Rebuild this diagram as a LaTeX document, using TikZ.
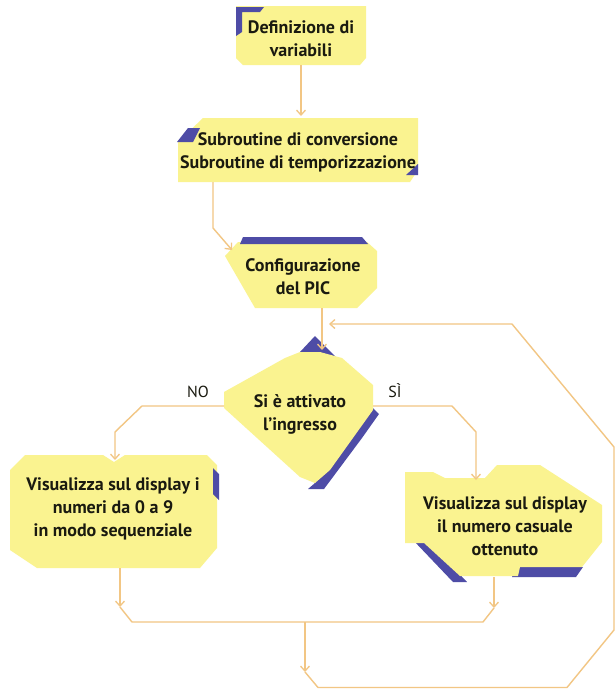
\documentclass[tikz,border=0pt]{standalone}
\usepackage{fontspec}
\setmainfont{PT Sans}
\usetikzlibrary{arrows.meta}
\definecolor{boxfill}{HTML}{FAF390}
\definecolor{shadowblue}{HTML}{4E4CA6}
\definecolor{flowline}{HTML}{F2C684}
\definecolor{inktext}{HTML}{1A1A10}
\tikzset{
  boxshape/.style={fill=boxfill,draw=none},
  bluetab/.style={fill=shadowblue,draw=none},
  boxtext/.style={inner sep=0pt,align=center,text=inktext,font=\bfseries\fontsize{18}{23}\selectfont},
  branchtext/.style={inner sep=0pt,text=inktext,font=\fontsize{16}{18}\selectfont},
  flow/.style={draw=flowline,line width=1.4pt,line join=round},
  flowarrow/.style={flow,-{Straight Barb[length=5pt,width=9pt,line width=1.3pt]}}
}
\begin{document}
\begin{tikzpicture}[x=1pt,y=-1pt]
\useasboundingbox (0,0) rectangle (616,689);
\fill[white] (0,0) rectangle (616,689);

% --- box: variable definitions
\fill[boxshape] (236,6) -- (366,6) -- (366,58) -- (360,65) -- (243,65) -- (236,58) -- cycle;
\fill[bluetab] (236,7) -- (264,7) -- (260,12) -- (242,12) -- (242,32) -- (236,36) -- cycle;
\node[boxtext] (n1) at (301,39) {Definizione di\\variabili};
\coordinate (n1s) at (301,65);
\coordinate (n2n) at (301,116);

% --- box: subroutines
\fill[boxshape] (203,118) -- (418,118) -- (418,170) -- (410,182) -- (178,182) -- (178,142) -- cycle;
\fill[bluetab] (177,142) -- (188,128) -- (200,128) -- (193,142) -- cycle;
\fill[bluetab] (406,175) -- (418,164) -- (418,175) -- cycle;
\node[boxtext] (n2) at (298,152) {Subroutine di conversione\\Subroutine di temporizzazione};
\coordinate (n2s) at (213,182);
\coordinate (n2k) at (213,228);

% --- box: PIC configuration
\fill[boxshape] (238,242) -- (367,242) -- (377,251) -- (377,288) -- (357,308) -- (255,308) -- (225,256) -- cycle;
\fill[bluetab] (243,237) -- (362,237) -- (368,244) -- (240,244) -- cycle;
\node[boxtext] (n3) at (303,277) {Configurazione\\del PIC};
\coordinate (n3w) at (232,250);
\coordinate (n3s) at (322,308);

% --- decision
\fill[bluetab] (300,352) -- (315,336) -- (337,358) -- cycle;
\fill[bluetab] (373,408) -- (379,414) -- (362,438) -- (324,489) -- (308,489) -- (315,483) -- cycle;
\fill[boxshape] (224,392) -- (285,358) -- (300,352) -- (320,352) -- (342,358) -- (373,385)
  -- (373,410) -- (330,470) -- (315,483) -- (300,477) -- (224,408) -- cycle;
\node[boxtext] (d1) at (300,414) {Si è attivato\\l’ingresso};
\coordinate (d1n) at (322,350);
\coordinate (d1w) at (224,406);
\coordinate (d1e) at (373,406);
\node[branchtext] (lno) at (198,392) {NO};
\node[branchtext] (lsi) at (395,391) {SÌ};

% --- box: sequential display
\fill[boxshape] (10,470) -- (25,455) -- (103,455) -- (114,462) -- (125,455) -- (207,455) -- (217,465)
  -- (217,548) -- (200,568) -- (37,568) -- (10,550) -- cycle;
\fill[bluetab] (213,468) -- (219,474) -- (219,500) -- (213,494) -- cycle;
\node[boxtext] (n4) at (113,509) {Visualizza sul display i\\numeri da 0 a 9\\in modo sequenziale};
\coordinate (n4n) at (115,460);
\coordinate (n4s) at (120,568);

% --- box: random number display
\fill[bluetab] (413,540) -- (427,540) -- (467,582) -- (453,582) -- cycle;
\fill[bluetab] (516,567) -- (583,567) -- (576,577) -- (512,577) -- cycle;
\fill[boxshape] (405,472) -- (433,472) -- (445,478) -- (485,478) -- (497,465) -- (540,465) -- (602,505)
  -- (602,542) -- (582,567) -- (520,567) -- (518,576) -- (460,576) -- (424,543) -- (405,543) -- cycle;
\node[boxtext] (n5) at (505,526) {Visualizza sul display\\il numero casuale\\ottenuto};
\coordinate (n5n) at (476,480);
\coordinate (n5s) at (494,577);

% --- junction points of the return path
\coordinate (jl) at (120,607);
\coordinate (jr) at (494,608);
\coordinate (jm) at (305,622);
\coordinate (jb) at (305,672);
\coordinate (loopin) at (329,324);

% --- connectors
\draw[flowarrow] (n1s) -- (n2n);
\draw[flowarrow] (n2s) -- (n2k) -- (n3w);
\draw[flowarrow] (n3s) -- (d1n);
\draw[flowarrow] (d1w) -- (142,406) -- (115,432) -- (n4n);
\draw[flowarrow] (d1e) -- (452,406) -- (476,432) -- (n5n);
\draw[flowarrow] (n4s) -- (jl);
\draw[flowarrow] (n5s) -- (jr);
\draw[flow] (jl) -- (132,622) -- (483,622) -- (jr);
\draw[flowarrow] (jm) -- (jb);
\draw[flowarrow] (jb) -- (318,687.5) -- (567,687.5) -- (614,630) -- (614,447) -- (512,324) -- (loopin);
\end{tikzpicture}
\end{document}
